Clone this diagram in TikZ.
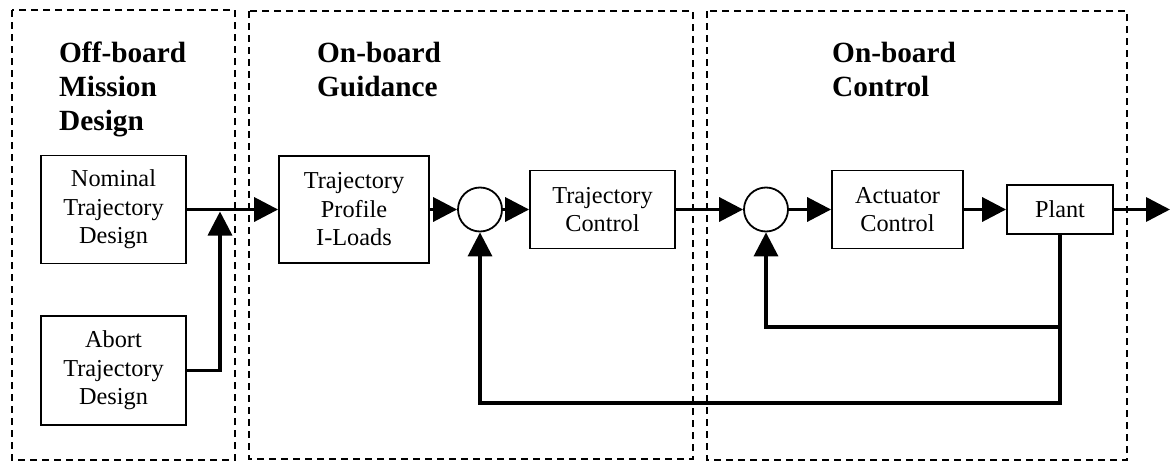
\documentclass[tikz,border=0pt]{standalone}
\usepackage{fontspec}
\setmainfont{Liberation Serif}
\usetikzlibrary{arrows.meta}
\begin{document}
\begin{tikzpicture}[x=1pt,y=-1pt,
  group/.style={draw, line width=1.6pt, dash pattern=on 7pt off 5pt},
  block/.style={draw, line width=1.8pt, inner sep=0pt, align=center,
    font=\fontsize{24.3}{28.5}\selectfont},
  summer/.style={draw, circle, line width=1.8pt, minimum size=44pt, inner sep=0pt},
  title/.style={anchor=north west, inner sep=0pt, align=left,
    font=\fontsize{29.3}{34}\selectfont\bfseries},
  flow/.style={line width=3.5pt, -{Triangle[length=24pt,width=24pt]}},
]
\useasboundingbox (0,0) rectangle (1171,463);

% dashed groupings
\draw[group] (12,10) rectangle (235,460);
\draw[group] (249,11) rectangle (693,459);
\draw[group] (707,11) rectangle (1127,460);

% group titles
\node[title] (toff) at (59,42) {Off-board\\Mission\\Design};
\node[title] (tguid) at (317,42) {On-board\\Guidance};
\node[title] (tctrl) at (832,42) {On-board\\Control};

% blocks
\node[block, minimum width=145pt, minimum height=108pt] (nom) at (113.5,209.5) {Nominal\\Trajectory\\Design};
\node[block, minimum width=145pt, minimum height=109pt] (abort) at (113.5,370.5) {Abort\\Trajectory\\Design};
\node[block, minimum width=150pt, minimum height=107pt] (tp) at (354,209.5) {Trajectory\\Profile\\I-Loads};
\node[summer] (s1) at (480,209.5) {};
\node[block, minimum width=145pt, minimum height=78pt] (tc) at (602.5,209.5) {Trajectory\\Control};
\node[summer] (s2) at (766,209.5) {};
\node[block, minimum width=131pt, minimum height=78pt] (act) at (897.5,209.5) {Actuator\\Control};
\node[block, minimum width=106pt, minimum height=49pt] (plant) at (1060,209.5) {Plant};

% auxiliary points
\coordinate (join) at (220,211.5);
\coordinate (out) at (1170,209.5);
\coordinate (inner) at (766,327);
\coordinate (outer) at (480,403);

% forward path
\draw[flow] (nom.east) -- (tp.west);
\draw[flow] (abort.east) -| (join);
\draw[flow] (tp.east) -- (s1.west);
\draw[flow] (s1.east) -- (tc.west);
\draw[flow] (tc.east) -- (s2.west);
\draw[flow] (s2.east) -- (act.west);
\draw[flow] (act.east) -- (plant.west);
\draw[flow] (plant.east) -- (out);

% feedback loops
\draw[flow] (plant.south) |- (inner) -- (s2.south);
\draw[flow] (plant.south) |- (outer) -- (s1.south);
\end{tikzpicture}
\end{document}
